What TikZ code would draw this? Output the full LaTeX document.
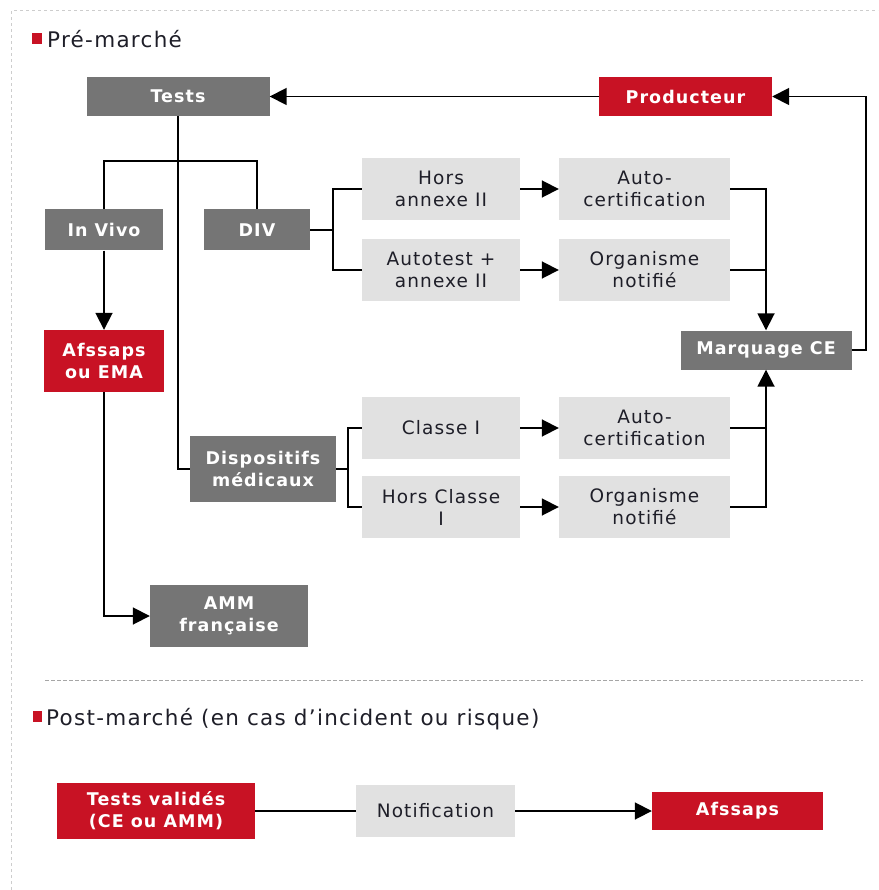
\documentclass[tikz,border=0pt]{standalone}
\usepackage{fontspec}
\setmainfont{DejaVu Sans}[LetterSpace=6]
\usetikzlibrary{arrows.meta}
\definecolor{boxdark}{RGB}{117,117,117}
\definecolor{boxred}{RGB}{200,18,36}
\definecolor{boxlight}{RGB}{225,225,225}
\definecolor{framegray}{RGB}{205,205,205}
\definecolor{inkdark}{RGB}{30,30,40}

\begin{document}
\begin{tikzpicture}[x=1pt, y=-1pt,
    every node/.style={font=\fontsize{18.5}{22}\selectfont, align=center, inner sep=0pt},
    darkbox/.style={fill=boxdark, text=white, font=\fontsize{17.5}{22}\selectfont\bfseries},
    redbox/.style={fill=boxred, text=white, font=\fontsize{17.5}{22}\selectfont\bfseries},
    lightbox/.style={fill=boxlight, text=inkdark},
    heading/.style={anchor=base west, text=inkdark, font=\fontsize{21.5}{25}\selectfont},
    link/.style={line width=1.8pt},
    flow/.style={link, -{Triangle[length=17pt, width=17pt]}}]
    \useasboundingbox (0,0) rectangle (878,890);
    % Frame
        \draw[framegray, line width=1pt, dash pattern=on 3pt off 3pt] (11,890) -- (11,11) -- (878,11);

    % TOP: Pré-marché
        \fill[boxred] (32,33) rectangle (42,44);
        \node[heading] (premarche) at (47,48) {Pré-marché};

        \node[darkbox, minimum width=183, minimum height=39] (tests) at (178,96.5) {Tests};
        \node[redbox, minimum width=173, minimum height=39] (producteur) at (685.5,96.5) {Producteur};
        \node[darkbox, minimum width=118, minimum height=41] (invivo) at (104,230) {In Vivo};
        \node[darkbox, minimum width=106, minimum height=41] (div) at (257,230) {DIV};
        \node[redbox, minimum width=120, minimum height=62] (afssaps) at (104,361) {Afssaps\\ou EMA};
        \node[darkbox, minimum width=158, minimum height=62] (amm) at (229,616) {AMM\\française};
        \node[darkbox, minimum width=146, minimum height=66] (dm) at (263,469) {Dispositifs\\médicaux};

    % DIV branch
        \node[lightbox, minimum width=158, minimum height=62] (horsannexe) at (441,189) {Hors\\annexe II};
        \node[lightbox, minimum width=158, minimum height=62] (autotest) at (441,270) {Autotest +\\annexe II};
        \node[lightbox, minimum width=171, minimum height=62] (autocertA) at (644.5,189) {Auto-\\certification};
        \node[lightbox, minimum width=171, minimum height=62] (organismeA) at (644.5,270) {Organisme\\notifié};

    % Dispositifs médicaux branch
        \node[lightbox, minimum width=158, minimum height=62] (classe) at (441,428) {Classe I};
        \node[lightbox, minimum width=158, minimum height=62] (horsclasse) at (441,507) {Hors Classe\\I};
        \node[lightbox, minimum width=171, minimum height=62] (autocertB) at (644.5,428) {Auto-\\certification};
        \node[lightbox, minimum width=171, minimum height=62] (organismeB) at (644.5,507) {Organisme\\notifié};

        \node[darkbox, minimum width=171, minimum height=39] (marquage) at (766,350) {Marquage CE};

    % Connectors
        \coordinate (split) at (178,161);
        \coordinate (divsplit) at (333,230);
        \coordinate (dmsplit) at (348,469);
        \coordinate (retour) at (866,350);
        \draw[flow] (producteur) -- (tests);
        \draw[flow] (marquage.east) -- (retour) |- (producteur.east);
        \draw[link] (tests.south) -- (split);
        \draw[link] (invivo.north) |- (split) -| (div.north);
        \draw[link] (tests.south) |- (dm.west);
        \draw[flow] (invivo) -- (afssaps);
        \draw[flow] (afssaps.south) |- (amm.west);
        \draw[link] (div.east) -- (divsplit);
        \draw[link] (horsannexe.west) -| (divsplit) |- (autotest.west);
        \draw[link] (dm.east) -- (dmsplit);
        \draw[link] (classe.west) -| (dmsplit) |- (horsclasse.west);
        \draw[flow] (horsannexe) -- (autocertA);
        \draw[flow] (autotest) -- (organismeA);
        \draw[flow] (classe) -- (autocertB);
        \draw[flow] (horsclasse) -- (organismeB);
        \draw[flow] (autocertA.east) -| (marquage.north);
        \draw[link] (organismeA.east) -- (organismeA.east -| marquage.north);
        \draw[flow] (organismeB.east) -| (marquage.south);
        \draw[link] (autocertB.east) -- (autocertB.east -| marquage.south);

    % Separator
        \draw[gray!70, line width=1pt, dash pattern=on 4pt off 2pt] (45,680) -- (863,680);

    % BOTTOM: Post-marché
        \fill[boxred] (33,711) rectangle (42,722);
        \node[heading] (postmarche) at (46,725) {Post-marché (en cas d’incident ou risque)};

        \node[redbox, minimum width=198, minimum height=56] (valides) at (156,811) {Tests validés\\(CE ou AMM)};
        \node[lightbox, minimum width=159, minimum height=52] (notification) at (435.5,811) {Notification};
        \node[redbox, minimum width=171, minimum height=38] (afssapsB) at (737.5,811) {Afssaps};
        \draw[link] (valides) -- (notification);
        \draw[flow] (notification) -- (afssapsB);
\end{tikzpicture}
\end{document}
